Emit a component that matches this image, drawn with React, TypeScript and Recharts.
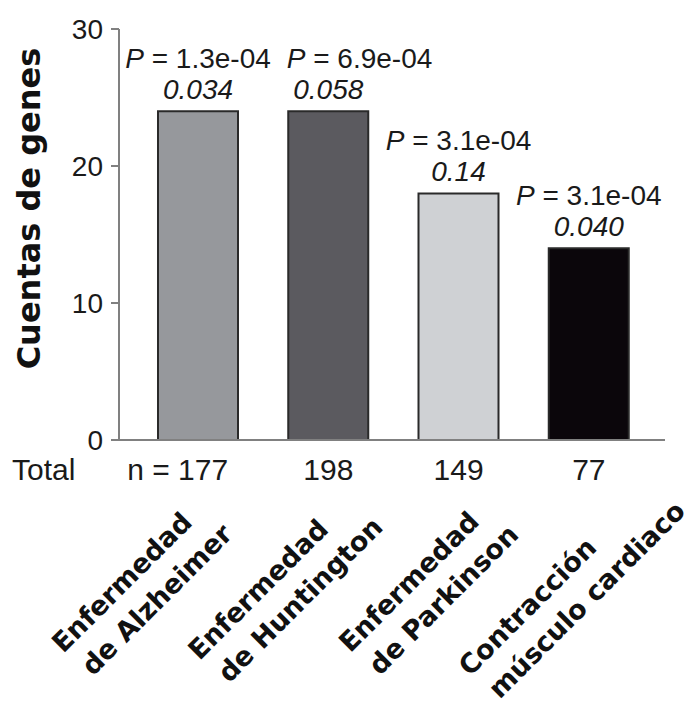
import { BarChart, Bar, XAxis, YAxis, Cell, LabelList, Label } from "recharts";

// values
const categories = ["Enfermedad\nde Alzheimer", "Enfermedad\nde Huntington", "Enfermedad\nde Parkinson", "Contracción\nmúsculo cardiaco"];
const geneCounts = [24, 24, 18, 14];
const totals = [177, 198, 149, 77];
const pValues = ["1.3e-04", "6.9e-04", "3.1e-04", "3.1e-04"];
const fdrValues = ["0.034", "0.058", "0.14", "0.040"];
const yTicks = [0, 10, 20, 30];

const barColors = ["#96989c", "#5b5a5f", "#cfd1d4", "#0b060b"];
const SANS = "'Liberation Sans', Arial, sans-serif";
const BOLD = "'DejaVu Sans', Verdana, sans-serif";
const CAT_FONT = 27;
const CAT_LH = 37;

const data = categories.map((name, i) => ({
    name,
    count: geneCounts[i],
    total: totals[i],
    p: pValues[i],
    fdr: fdrValues[i],
}));

let ctx: CanvasRenderingContext2D | null = null;
function textWidth(t: string, font: string) {
    if (!ctx) ctx = document.createElement("canvas").getContext("2d");
    if (!ctx) return t.length * 15;
    ctx.font = font;
    return ctx.measureText(t).width;
}

function CategoryTick(props: any) {
    const { x, y, payload, index } = props;
    const lines = String(payload.value).split("\n");
    const font = `bold ${CAT_FONT}px 'DejaVu Sans'`;
    const w1 = textWidth(lines[0], font);
    const w2 = textWidth(lines[1], font) + 5;
    const W = Math.max(w1, w2);
    // labels fan out a little wider than the bars
    const bx = x + (x - 392) * 0.1 - 37;
    const by = y + 148;
    const half = CAT_FONT * 0.36;
    return (
        <g>
            {index === 0 && (
                <text x={12} y={y + 40} fontSize={30} fontFamily={SANS} fill="#1a1a1a">Total</text>
            )}
            <text x={index === 0 ? x + 30 : x} y={y + 40} textAnchor={index === 0 ? "end" : "middle"}
                fontSize={30} fontFamily={SANS} fill="#1a1a1a">
                {index === 0 ? `n = ${totals[index]}` : totals[index]}
            </text>
            <g transform={`translate(${bx},${by}) rotate(-45)`} fontSize={CAT_FONT} fontWeight="bold" fontFamily={BOLD} fill="#111">
                <text x={-W / 2} y={-CAT_LH / 2 + half}>{lines[0]}</text>
                <text x={-W / 2 + 5} y={CAT_LH / 2 + half}>{lines[1]}</text>
            </g>
        </g>
    );
}

// P line slides right when it would run into the neighbour at the same height
let prevRight = -Infinity;
let prevTop = -Infinity;
function PLabel(props: any) {
    const { x, y, width, index } = props;
    const cx = x + width / 2;
    const txt = ` = ${pValues[index]}`;
    const w = textWidth("P" + txt, `28px 'Liberation Sans'`);
    if (index === 0) { prevRight = -Infinity; prevTop = -Infinity; }
    let left = cx - w / 2;
    if (Math.abs(y - prevTop) < 30 && left < prevRight + 16) left = prevRight + 16;
    prevRight = left + w;
    prevTop = y;
    return (
        <g fontFamily={SANS} fontSize={28} fill="#1a1a1a">
            <text x={left} y={y - 43}>
                <tspan fontStyle="italic">P</tspan>
                <tspan>{txt}</tspan>
            </text>
            <text x={cx} y={y - 12} textAnchor="middle" fontStyle="italic">{fdrValues[index]}</text>
        </g>
    );
}

function YTitle(props: any) {
    const vb = props.viewBox || { x: 0, y: 29, width: 119, height: 411 };
    const x = vb.x + 40;
    const y = vb.y + vb.height / 2 - 26;
    return (
        <text x={x} y={y} transform={`rotate(-90, ${x}, ${y})`} textAnchor="middle"
            fontSize={32} fontWeight="bold" fontFamily={BOLD} fill="#111">
            Cuentas de genes
        </text>
    );
}

export default function App() {
    return (
        <div style={{ position: "absolute", left: 0, top: 0, width: 691, height: 714, background: "#fff" }}>
            <BarChart width={691} height={714} data={data} margin={{ top: 29, right: 26, bottom: 0, left: 0 }}>
                <XAxis dataKey="name" interval={0} height={274} tickLine={false} tickSize={0} tickMargin={0}
                    axisLine={{ stroke: "#808080", strokeWidth: 2 }} padding={{ left: 14, right: 11 }}
                    tick={<CategoryTick />} />
                <YAxis domain={[0, 30]} ticks={yTicks} width={119} interval={0}
                    axisLine={{ stroke: "#808080", strokeWidth: 2 }} tickLine={{ stroke: "#808080", strokeWidth: 2 }}
                    tickSize={8} tickMargin={8}
                    tick={{ fontSize: 28, fontFamily: SANS, fill: "#1a1a1a" }}>
                    <Label content={<YTitle />} />
                </YAxis>
                <Bar dataKey="count" barSize={80} stroke="#2a2a2a" strokeWidth={2} isAnimationActive={false}>
                    {data.map((_, i) => (
                        <Cell key={i} fill={barColors[i]} />
                    ))}
                    <LabelList dataKey="count" content={<PLabel />} />
                </Bar>
            </BarChart>
        </div>
    );
}
